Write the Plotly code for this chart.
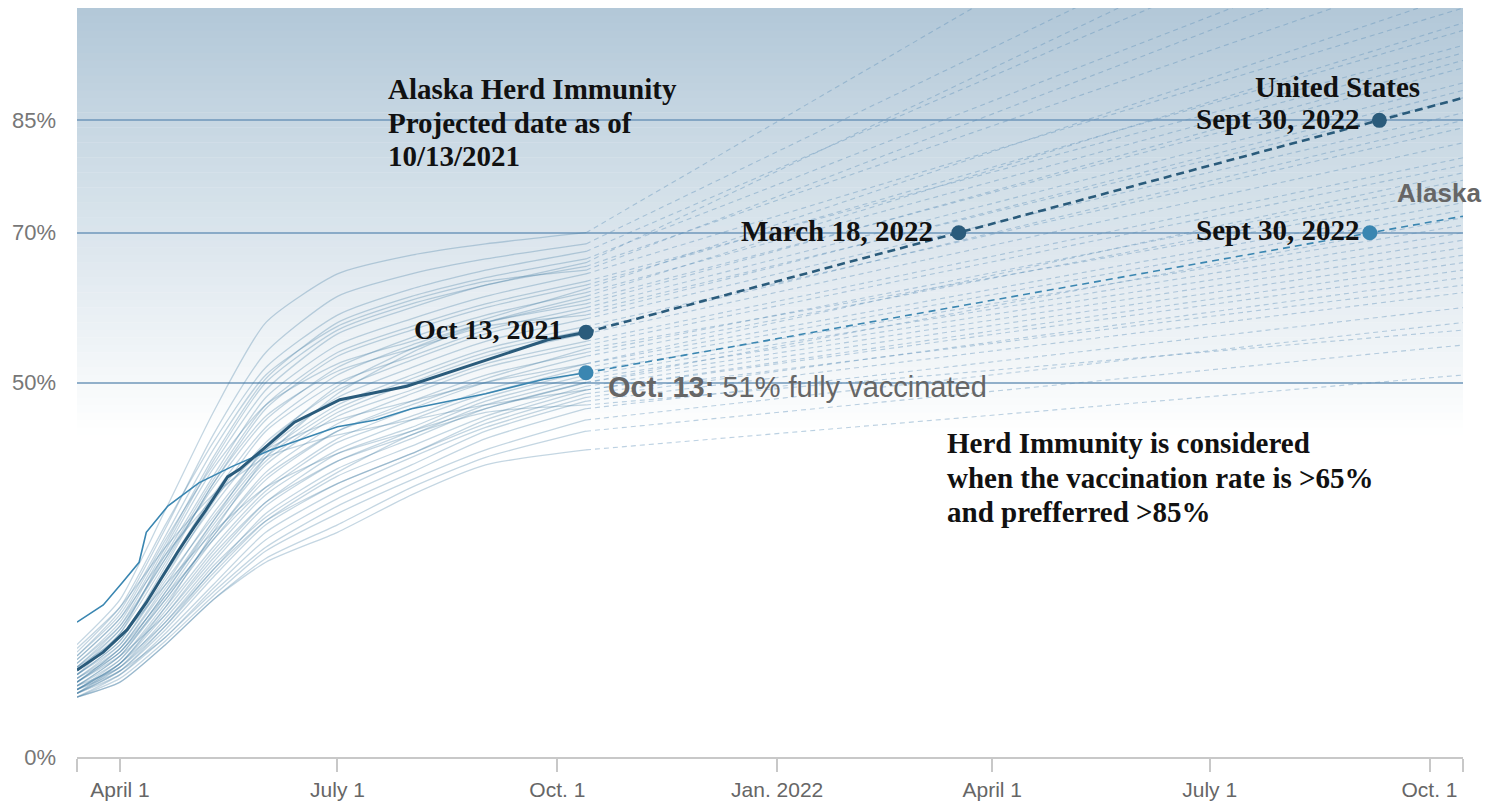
import plotly.graph_objects as go

# ---------------- data ----------------
state_dates = ["2021-03-14", "2021-04-01", "2021-04-20", "2021-05-10", "2021-06-01",
               "2021-07-01", "2021-08-01", "2021-09-01", "2021-10-13"]
proj_end_date = "2022-10-15"

# each row: values at state_dates, then projected value at proj_end_date
state_values = [
    [15.0, 21.0, 33.0, 46.0, 58.0, 64.5, 67.0, 68.5, 70.0, 138],
    [13.5, 19.5, 30.5, 43.0, 54.0, 61.5, 64.5, 66.5, 68.5, 125],
    [14.0, 20.0, 31.0, 42.0, 52.0, 59.0, 62.5, 65.0, 67.5, 118],
    [12.5, 18.0, 28.5, 40.0, 50.5, 58.0, 61.5, 64.0, 66.5, 112],
    [13.0, 18.5, 29.0, 39.0, 49.0, 56.5, 60.0, 63.0, 65.5, 106],
    [12.0, 17.0, 27.0, 37.5, 48.0, 55.0, 58.5, 61.5, 64.5, 100],
    [11.5, 16.5, 26.0, 36.5, 46.5, 53.5, 57.0, 60.0, 63.0, 97],
    [12.5, 17.5, 26.5, 36.0, 45.0, 52.0, 56.0, 59.0, 62.0, 94],
    [11.0, 15.5, 25.0, 35.0, 44.0, 51.0, 55.0, 58.0, 61.0, 92],
    [10.5, 15.0, 24.0, 34.0, 43.5, 50.0, 53.5, 57.0, 60.0, 90],
    [11.5, 16.0, 24.5, 33.5, 42.0, 49.0, 53.0, 56.5, 59.5, 88],
    [10.0, 14.5, 23.0, 32.5, 41.0, 48.0, 52.0, 55.5, 58.5, 86],
    [11.0, 15.0, 23.5, 32.0, 40.5, 47.0, 51.0, 54.5, 57.5, 84],
    [10.5, 14.0, 22.0, 31.0, 39.5, 46.0, 50.0, 53.5, 56.5, 82],
    [9.5, 13.5, 21.5, 30.5, 39.0, 45.5, 49.0, 52.5, 55.5, 80],
    [10.0, 14.0, 21.0, 29.5, 38.0, 44.5, 48.5, 52.0, 55.0, 79],
    [9.0, 13.0, 20.5, 29.0, 37.0, 43.5, 47.5, 51.0, 54.0, 77],
    [10.5, 14.5, 21.5, 29.0, 36.0, 42.5, 46.5, 50.0, 53.5, 76],
    [9.5, 13.0, 20.0, 28.0, 35.5, 42.0, 45.5, 49.0, 52.5, 74],
    [9.0, 12.5, 19.5, 27.5, 35.0, 41.0, 45.0, 48.5, 52.0, 73],
    [10.0, 13.5, 19.0, 26.5, 34.0, 40.5, 44.0, 48.0, 51.5, 71],
    [8.5, 12.0, 18.5, 26.0, 33.5, 39.5, 43.5, 47.5, 51.0, 70],
    [9.0, 12.5, 18.0, 25.0, 32.5, 38.5, 42.5, 46.5, 50.0, 68],
    [9.5, 12.0, 17.5, 24.5, 31.5, 37.5, 41.5, 45.5, 49.5, 67],
    [8.5, 11.5, 17.0, 24.0, 31.0, 36.5, 40.5, 45.0, 49.0, 65],
    [8.0, 11.0, 16.5, 23.0, 30.0, 35.5, 40.0, 44.0, 48.0, 64],
    [9.0, 11.5, 16.0, 22.5, 29.0, 34.5, 39.0, 43.5, 47.5, 62],
    [8.5, 11.0, 16.0, 22.0, 28.0, 33.5, 38.0, 42.5, 46.5, 60],
    [8.0, 10.5, 15.5, 21.5, 27.5, 32.5, 37.0, 41.0, 45.0, 58],
    [8.0, 10.0, 15.0, 21.0, 26.5, 31.0, 36.0, 40.0, 43.5, 55],
    [8.0, 10.0, 15.0, 21.0, 26.0, 30.0, 35.0, 39.0, 41.0, 51],
    [14.5, 20.0, 28.0, 35.0, 40.0, 43.0, 45.0, 47.0, 49.0, 66],
    [13.0, 18.5, 27.0, 34.5, 41.0, 45.0, 47.5, 50.0, 52.5, 78],
    [8.5, 12.5, 20.0, 30.0, 40.0, 48.5, 54.0, 58.0, 61.5, 98],
    [11.0, 16.5, 27.5, 38.5, 47.0, 52.5, 55.5, 58.5, 62.5, 102],
    [12.0, 17.5, 28.0, 39.5, 50.0, 57.0, 60.5, 63.0, 66.0, 122],
    [13.5, 19.0, 29.5, 41.0, 51.0, 57.5, 61.0, 63.5, 65.0, 110],
    [11.5, 17.0, 26.5, 37.0, 47.0, 54.0, 57.5, 60.5, 63.5, 95],
    [10.0, 14.5, 22.5, 31.5, 40.0, 46.5, 50.5, 54.0, 57.0, 85],
    [9.5, 13.5, 21.0, 29.5, 37.5, 43.5, 47.0, 50.5, 54.5, 75],
    [9.0, 12.5, 19.0, 27.0, 34.0, 39.5, 43.0, 47.0, 50.5, 69],
    [8.5, 11.5, 17.5, 25.0, 31.5, 36.5, 40.5, 44.5, 48.5, 63],
    [10.0, 14.0, 22.0, 31.5, 41.5, 49.5, 54.5, 58.0, 60.5, 93],
    [12.0, 16.0, 23.0, 30.0, 36.0, 40.5, 43.5, 46.5, 50.0, 72],
    [11.0, 15.5, 25.5, 36.5, 45.5, 51.5, 54.5, 57.5, 59.0, 89],
    [9.0, 12.0, 18.0, 25.5, 32.0, 38.0, 43.0, 46.0, 47.0, 57],
]

us_dates = ["2021-03-14", "2021-03-25", "2021-04-04", "2021-04-12", "2021-04-18",
            "2021-04-25", "2021-05-02", "2021-05-07", "2021-05-16", "2021-05-21",
            "2021-06-13", "2021-07-02", "2021-07-30", "2021-08-20", "2021-09-10",
            "2021-09-27", "2021-10-13"]
us_values = [11.6, 14.0, 17.0, 20.6, 23.7, 27.3, 30.7, 33.0, 37.4, 38.4,
             44.7, 47.7, 49.5, 51.7, 54.0, 55.7, 56.7]
us_proj_dates = ["2021-10-13", "2022-03-18", "2022-09-10", "2022-10-15"]
us_proj_values = [56.7, 70.0, 85.0, 88.0]
us_dot_dates = ["2021-10-13", "2022-03-18", "2022-09-10"]
us_dot_values = [56.7, 70.0, 85.0]

ak_dates = ["2021-03-14", "2021-03-25", "2021-04-02", "2021-04-09", "2021-04-12",
            "2021-04-21", "2021-05-04", "2021-05-18", "2021-06-03", "2021-07-01",
            "2021-07-17", "2021-08-01", "2021-09-01", "2021-09-25", "2021-10-13"]
ak_values = [18.0, 20.3, 23.3, 26.0, 30.0, 33.5, 36.6, 38.8, 41.0, 44.1,
             45.0, 46.5, 48.5, 50.4, 51.3]
ak_proj_dates = ["2021-10-13", "2022-09-06", "2022-10-15"]
ak_proj_values = [51.3, 70.0, 72.2]
ak_dot_dates = ["2021-10-13", "2022-09-06"]
ak_dot_values = [51.3, 70.0]

x_tick_vals = ["2021-03-14", "2021-04-01", "2021-07-01", "2021-10-01", "2022-01-01",
               "2022-04-01", "2022-07-01", "2022-10-01", "2022-10-15"]
x_tick_text = ["", "April 1", "July 1", "Oct. 1", "Jan. 2022", "April 1", "July 1", "Oct. 1", ""]
y_tick_vals = [0, 50, 70, 85]
y_tick_text = ["0%", "50%", "70%", "85%"]

# ---------------- styles ----------------
US_COLOR = "#2a5b7b"
AK_COLOR = "#3a86b1"
SERIF = "Liberation Serif"
SANS = "Liberation Sans"

fig = go.Figure()

sx, sy, px_, py_ = [], [], [], []
for row in state_values:
    sx += state_dates + [None]
    sy += row[:-1] + [None]
    px_ += [state_dates[-1], proj_end_date, None]
    py_ += [row[-2], row[-1], None]

fig.add_trace(go.Scatter(x=px_, y=py_, mode="lines", hoverinfo="skip",
                         line=dict(color="rgba(95,145,185,0.42)", width=1.1, dash="5px,4px"),
                         showlegend=False))
fig.add_trace(go.Scatter(x=sx, y=sy, mode="lines", hoverinfo="skip",
                         line=dict(color="rgba(60,120,160,0.30)", width=1.3, shape="spline", smoothing=0.6),
                         showlegend=False))

# Alaska
fig.add_trace(go.Scatter(x=ak_proj_dates, y=ak_proj_values, mode="lines",
                         line=dict(color=AK_COLOR, width=1.6, dash="7px,5px"), showlegend=False))
fig.add_trace(go.Scatter(x=ak_dates, y=ak_values, mode="lines",
                         line=dict(color=AK_COLOR, width=1.6), showlegend=False))
# US
fig.add_trace(go.Scatter(x=us_proj_dates, y=us_proj_values, mode="lines",
                         line=dict(color=US_COLOR, width=2.6, dash="8px,5px"), showlegend=False))
fig.add_trace(go.Scatter(x=us_dates, y=us_values, mode="lines",
                         line=dict(color=US_COLOR, width=3), showlegend=False))
# dots
fig.add_trace(go.Scatter(x=ak_dot_dates, y=ak_dot_values, mode="markers",
                         marker=dict(color=AK_COLOR, size=15), showlegend=False))
fig.add_trace(go.Scatter(x=us_dot_dates, y=us_dot_values, mode="markers",
                         marker=dict(color=US_COLOR, size=15), showlegend=False))

# gradient background
shapes = []
top_rgb = (178, 200, 216)
g_lo, g_hi = 43, 100
for v in range(g_lo, g_hi):
    t = (v + 0.5 - g_lo) / (g_hi - g_lo)
    c = tuple(round(255 - (255 - tc) * t) for tc in top_rgb)
    shapes.append(dict(type="rect", xref="paper", x0=0, x1=1, yref="y", y0=v, y1=v + 1.05,
                       fillcolor="rgb(%d,%d,%d)" % c, line=dict(width=0), layer="below"))

ann = []
def A(text, x, y, xanchor="left", size=29, family=SERIF, color="#111", xref="paper", yref="paper",
      xshift=0, yshift=0, weight="bold"):
    ann.append(dict(text=text, x=x, y=y, xref=xref, yref=yref, xanchor=xanchor, yanchor="middle",
                    showarrow=False, xshift=xshift, yshift=yshift,
                    font=dict(family=family, size=size, color=color, weight=weight)))

# plot-area edges in page pixels (page has an 8px body margin)
L, R, T, B = 77, 1463, 8, 757
def PX(p): return (p - L) / (R - L)
def PY(p): return (B - p) / (B - T)

A("Alaska Herd Immunity", PX(386), PY(89))
A("Projected date as of", PX(386), PY(123))
A("10/13/2021", PX(386), PY(156))
A("Herd Immunity is considered", PX(945), PY(443))
A("when the vaccination rate is >65%", PX(945), PY(478))
A("and prefferred >85%", PX(945), PY(512))
A("Oct 13, 2021", us_dot_dates[0], us_dot_values[0], xanchor="right", xref="x", yref="y",
  xshift=-21, yshift=3, size=28)
A("March 18, 2022", us_dot_dates[1], us_dot_values[1], xanchor="right", xref="x", yref="y", xshift=-24, yshift=2)
A("Sept 30, 2022", us_dot_dates[2], us_dot_values[2], xanchor="right", xref="x", yref="y", xshift=-17, yshift=1)
A("Sept 30, 2022", ak_dot_dates[1], ak_dot_values[1], xanchor="right", xref="x", yref="y", xshift=-8, yshift=3)
A("United States", PX(1337), PY(87), xanchor="center")
A("Alaska", PX(1439), PY(193), xanchor="center", family=SANS, size=26, color="#666")
A("<b>Oct. 13:</b> 51% fully vaccinated", ak_dot_dates[0], ak_dot_values[0], xanchor="left",
  xref="x", yref="y", xshift=20, yshift=-14, family=SANS, size=29, color="#666", weight="normal")

FW, FH = 1489, 794
fig.update_layout(
    width=FW, height=FH,
    margin=dict(l=L - 8, r=FW - (R - 8), t=0, b=FH - (B - 8), autoexpand=False),
    paper_bgcolor="white", plot_bgcolor="white",
    shapes=shapes, annotations=ann,
    showlegend=False,
    xaxis=dict(type="date", range=["2021-03-14", "2022-10-15"],
               tickvals=x_tick_vals, ticktext=x_tick_text,
               showgrid=False, zeroline=False, automargin=False,
               showline=True, linecolor="#c8c8c8", linewidth=2,
               ticks="outside", ticklen=13, tickwidth=2, tickcolor="#c8c8c8",
               tickfont=dict(family=SANS, size=21, color="#666")),
    yaxis=dict(range=[0, 100], tickvals=y_tick_vals, ticktext=y_tick_text,
               showgrid=True, gridcolor="rgba(110,150,185,0.75)", gridwidth=1.5,
               zeroline=False, showline=False, ticks="", automargin=False,
               ticklabelstandoff=20,
               tickfont=dict(family=SANS, size=22, color="#777")),
)

fig.write_html("out.html")
